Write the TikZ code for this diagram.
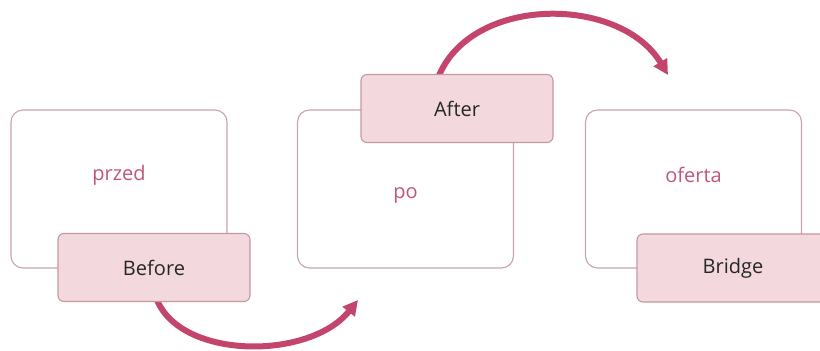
\documentclass[tikz,border=0pt]{standalone}
\usepackage{fontspec}
\setmainfont{Open Sans}
\usetikzlibrary{arrows.meta,positioning}
\definecolor{frameline}{HTML}{C9A3AE}
\definecolor{tagfill}{HTML}{F3D9DE}
\definecolor{tagline}{HTML}{C497A4}
\definecolor{hopink}{HTML}{C4456C}
\definecolor{wordink}{HTML}{C0577A}

\begin{document}
\begin{tikzpicture}[
  x=1pt, y=-1pt,
  >=Latex,
  card/.style={draw=frameline, line width=1.1pt, fill=white,
    rounded corners=12pt, minimum width=216pt, minimum height=158pt},
  tag/.style={draw=tagline, line width=1.1pt, fill=tagfill,
    rounded corners=6pt, minimum width=192pt, minimum height=68pt,
    font=\fontsize{20}{22}\selectfont, text=black!85},
  word/.style={font=\fontsize{20}{22}\selectfont, text=wordink},
  hop/.style={-{Triangle[length=15pt,width=15pt]}, line width=6pt, draw=hopink}
]
\useasboundingbox (0,0) rectangle (820,351);

% Karty
\node[card] (przed) at (119,189) {};
\node[card] (po) at (405.5,189) {};
\node[card] (oferta) at (693.5,189) {};
\node[word] (przedtxt) at (119,175) {przed};
\node[word] (potxt) at (405.5,195) {po};
\node[word] (ofertatxt) at (693.5,175) {oferta};

% Punkty docelowe strzalek
\coordinate (landpo) at (358,300);
\coordinate (landoferta) at (668,75);

% Strzalki
\draw[hop] (157,300) .. controls (182,360) and (310,360) .. (landpo);
\draw[hop] (438,78) .. controls (470,-5) and (620,-5) .. (landoferta);

% Etykiety
\node[tag] (before) at (154,267.5) {Before};
\node[tag] (after) at (457,108.5) {After};
\node[tag] (bridge) at (733,268) {Bridge};
\end{tikzpicture}
\end{document}
